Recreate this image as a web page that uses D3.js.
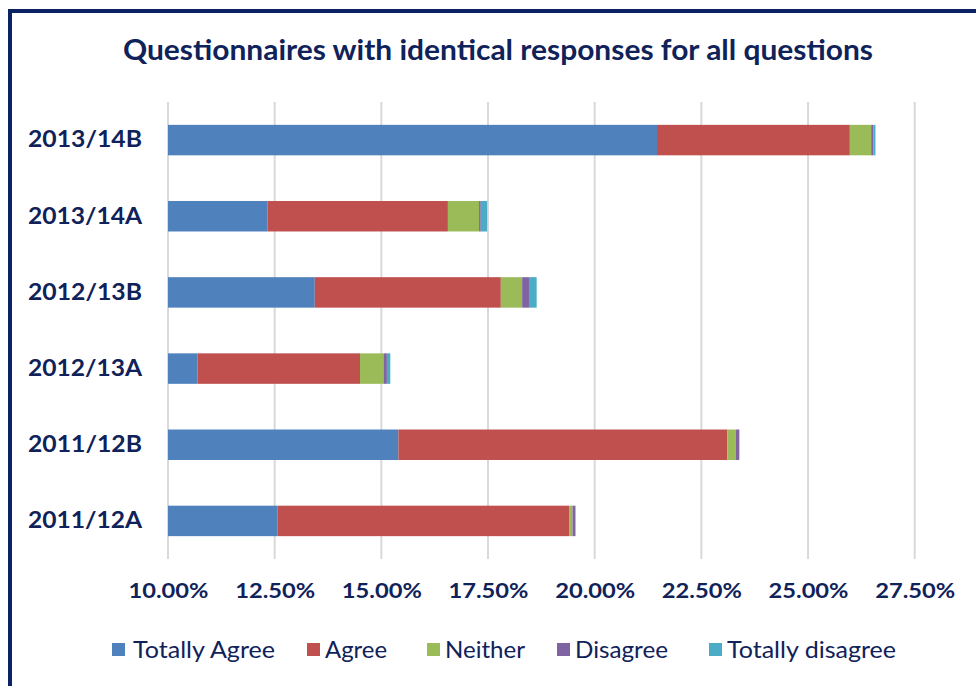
<!DOCTYPE html>
<html>
<head>
<meta charset="utf-8">
<script src="https://cdn.jsdelivr.net/npm/d3@7"></script>
<style>
  body { margin: 0; background: #fff; }
  svg { display: block; font-family: Lato, "Open Sans", sans-serif; }
</style>
</head>
<body>
<script>
// chart data (percent)
const years = ["2013/14B", "2013/14A", "2012/13B", "2012/13A", "2011/12B", "2011/12A"];
const seriesNames = ["Totally Agree", "Agree", "Neither", "Disagree", "Totally disagree"];
const totallyAgree = [21.46, 12.33, 13.44, 10.69, 15.40, 12.57];
const agree = [4.52, 4.23, 4.36, 3.81, 7.71, 6.83];
const neither = [0.50, 0.73, 0.50, 0.55, 0.20, 0.08];
const disagree = [0.05, 0.04, 0.16, 0.08, 0.08, 0.07];
const totallyDisagree = [0.05, 0.15, 0.18, 0.08, 0.00, 0.00];
const tickValues = [10, 12.5, 15, 17.5, 20, 22.5, 25, 27.5];
const colors = ["#4f81bd", "#c0504d", "#9bbb59", "#8064a2", "#4bacc6"];

const navy = "#0f2259";
const W = 976, H = 686;

const svg = d3.select("body").append("svg")
  .attr("width", W).attr("height", H);

// frame
svg.append("rect")
  .attr("x", 10).attr("y", 11)
  .attr("width", 1000).attr("height", 1000)
  .attr("fill", "none")
  .attr("stroke", "#0a2463")
  .attr("stroke-width", 4);

svg.append("text")
  .attr("x", 498).attr("y", 60)
  .attr("text-anchor", "middle")
  .attr("fill", navy)
  .attr("font-weight", "bold")
  .attr("font-size", 28)
  .attr("textLength", 750)
  .attr("lengthAdjust", "spacingAndGlyphs")
  .text("Questionnaires with identical responses for all questions");

const table = years.map((y, i) => {
  const vals = [totallyAgree[i], agree[i], neither[i], disagree[i], totallyDisagree[i]];
  const row = { year: y };
  seriesNames.forEach((s, j) => row[s] = vals[j]);
  return row;
});

const x = d3.scaleLinear().domain([10, 27.5]).range([168, 914.7]);
const y = d3.scaleBand().domain(years).range([102, 559]).paddingInner(0.6).paddingOuter(0.3);

// gridlines
svg.append("g")
  .selectAll("line")
  .data(tickValues)
  .join("line")
  .attr("x1", d => x(d)).attr("x2", d => x(d))
  .attr("y1", 102).attr("y2", 559)
  .attr("stroke", "#d9d9d9")
  .attr("stroke-width", 2);

const stack = d3.stack().keys(seriesNames)(table);

svg.append("g")
  .selectAll("g")
  .data(stack)
  .join("g")
  .attr("fill", (d, i) => colors[i])
  .selectAll("rect")
  .data(d => d)
  .join("rect")
  .attr("x", d => x(Math.max(d[0], 10)))
  .attr("y", d => y(d.data.year))
  .attr("width", d => Math.max(0, x(d[1]) - x(Math.max(d[0], 10))))
  .attr("height", y.bandwidth());

// category labels
const yAxis = svg.append("g")
  .attr("transform", "translate(168,0)")
  .call(d3.axisLeft(y).tickSize(0).tickPadding(26));
yAxis.select(".domain").remove();
yAxis.selectAll("text")
  .attr("fill", navy)
  .attr("font-size", 23)
  .attr("font-weight", "bold")
  .attr("font-family", "Lato, sans-serif")
  .attr("textLength", 114)
  .attr("lengthAdjust", "spacingAndGlyphs");

// x axis labels
const xAxis = svg.append("g")
  .attr("transform", "translate(0,583)")
  .call(d3.axisBottom(x).tickValues(tickValues).tickSize(0).tickPadding(0)
    .tickFormat(d => d.toFixed(2) + "%"));
xAxis.select(".domain").remove();
xAxis.selectAll("text")
  .attr("fill", navy)
  .attr("font-size", 21)
  .attr("font-weight", "bold")
  .attr("font-family", "Lato, sans-serif")
  .attr("textLength", 80)
  .attr("lengthAdjust", "spacingAndGlyphs");

// legend
const legendX = [112, 307, 427, 557, 709];
const legendW = [142, 62, 80, 93, 169];
const legend = svg.append("g")
  .selectAll("g")
  .data(seriesNames)
  .join("g")
  .attr("transform", (d, i) => `translate(${legendX[i]},650)`);
legend.append("rect")
  .attr("x", 0).attr("y", -7)
  .attr("width", 13).attr("height", 13)
  .attr("fill", (d, i) => colors[i]);
legend.append("text")
  .attr("x", (d, i) => i === 0 ? 21 : 18)
  .attr("y", 8)
  .attr("fill", navy)
  .attr("font-size", 23)
  .attr("textLength", (d, i) => legendW[i])
  .attr("lengthAdjust", "spacingAndGlyphs")
  .text(d => d);
</script>
</body>
</html>
